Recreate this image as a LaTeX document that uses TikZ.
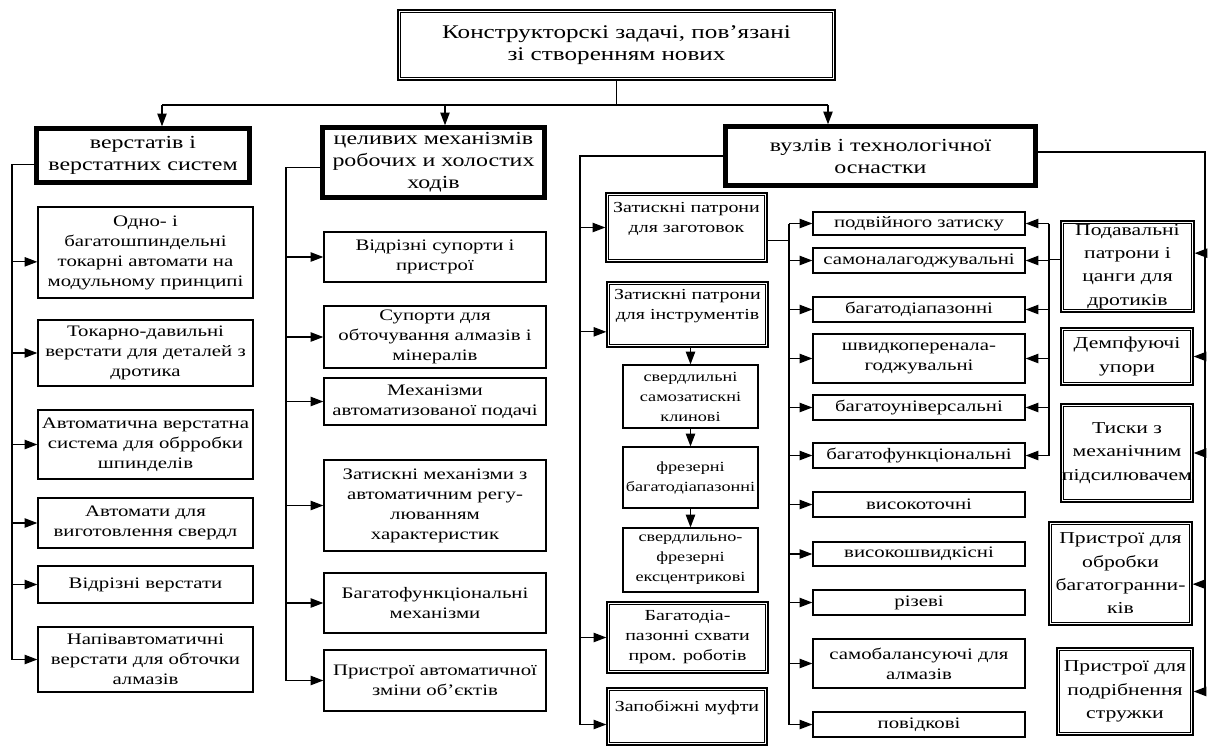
\documentclass[tikz,border=0pt]{standalone}
\usepackage{fontspec}
\setmainfont{Liberation Serif}[FakeStretch=1.3]
\usetikzlibrary{arrows.meta}
\newcommand\fs[2]{\fontsize{#1}{#2}\selectfont}
\newcommand\bx[7]{\node[#6, minimum width={(#4-#2)*0.75pt}, minimum height={(#5-#3)*0.75pt}] (#1) at ({(#2+#4)/2},{(#3+#5)/2}) {#7};}
\newcommand\inrect[3]{\draw[line width=#3] ([shift={(#2,-#2)}]#1.north west) rectangle ([shift={(-#2,#2)}]#1.south east);}
\begin{document}
\begin{tikzpicture}[x=0.75pt,y=-0.75pt,
  box/.style={draw, line width=1pt, align=center, inner sep=0.5pt, font=\fs{12}{15}},
  hdr/.style={draw, line width=2.6pt, align=center, inner sep=0pt, font=\fs{13.8}{16.5}},
  topbox/.style={draw, line width=1.3pt, align=center, inner sep=1pt, font=\fs{14.5}{16.5}},
  dbl/.style={draw, line width=1pt, align=center, inner sep=0.5pt, font=\fs{11.5}{15}},
  sbox/.style={box, line width=0.9pt, font=\fs{10.5}{15}},
  pbox/.style={dbl, font=\fs{12.5}{17.5}},
  arr/.style={-{Triangle[length=9.5pt,width=7pt]}, line width=0.9pt},
  ln/.style={line width=0.9pt}]
\fill[white] (0,0) rectangle (1208,747);
\useasboundingbox (0,0) rectangle (1208,747);

% top
\bx{top}{398}{10}{835}{80}{topbox}{Конструкторскі задачі, пов’язані\\зі створенням нових}
\inrect{top}{2.6pt}{0.7pt}

% headers
\bx{vs}{36}{128}{250}{183}{hdr}{верстатів і\\верстатних систем}
\bx{cm}{322}{127}{545}{198}{hdr}{целивих механізмів\\робочих и холостих\\ходів}
\bx{vz}{725}{126}{1036}{186}{hdr}{вузлів і технологічної\\оснастки}
\inrect{vs}{3.3pt}{0.6pt}
\inrect{cm}{3.3pt}{0.6pt}
\inrect{vz}{3.3pt}{0.6pt}

% left column
\bx{L1}{38}{207}{253}{298}{box}{Одно- і\\багатошпиндельні\\токарні автомати на\\модульному принципі}
\bx{L2}{38}{320}{253}{386}{box}{Токарно-давильні\\верстати для деталей з\\дротика}
\bx{L3}{38}{410}{253}{479}{box}{Автоматична верстатна\\система для обрробки\\шпинделів}
\bx{L4}{38}{498}{253}{548}{box}{Автомати для\\виготовлення свердл}
\bx{L5}{38}{566}{253}{603}{box}{Відрізні верстати}
\bx{L6}{38}{627}{253}{692}{box}{Напівавтоматичні\\верстати для обточки\\алмазів}

% middle column
\bx{M1}{324}{232}{546}{282}{box}{Відрізні супорти і\\пристрої}
\bx{M2}{324}{306}{546}{368}{box}{Супорти для\\обточування алмазів і\\мінералів}
\bx{M3}{324}{378}{546}{425}{box}{Механізми\\автоматизованої подачі}
\bx{M4}{324}{460}{546}{551}{box}{Затискні механізми з\\автоматичним регу-\\люванням\\характеристик}
\bx{M5}{324}{573}{546}{633}{box}{Багатофункціональні\\механізми}
\bx{M6}{324}{650}{546}{711}{box}{Пристрої автоматичної\\зміни об’єктів}

% right part, first column
\bx{R1}{606}{193}{767}{262}{dbl}{Затискні патрони\\для заготовок\\\mbox{}}
\bx{R2}{607}{282}{768}{347}{dbl}{Затискні патрони\\для інструментів\\\mbox{}}
\bx{S1}{623}{365}{758}{428}{sbox}{свердлильні\\самозатискні\\клинові}
\bx{S2}{623}{447}{758}{508}{sbox}{фрезерні\\багатодіапазонні}
\bx{S3}{623}{528}{758}{592}{sbox}{свердлильно-\\фрезерні\\ексцентрикові}
\bx{R3}{607}{602}{768}{673}{dbl}{Багатодіа-\\пазонні схвати\\пром. роботів}
\bx{R4}{607}{688}{767}{745}{dbl}{Запобіжні муфти\\\mbox{}}
\inrect{R1}{2.4pt}{0.6pt}
\inrect{R2}{2.4pt}{0.6pt}
\inrect{R3}{2.4pt}{0.6pt}
\inrect{R4}{2.4pt}{0.6pt}

% list
\bx{B1}{813}{212}{1025}{235}{box}{подвійного затиску}
\bx{B2}{813}{248}{1025}{273}{box}{самоналагоджувальні}
\bx{B3}{813}{297}{1025}{322}{box}{багатодіапазонні}
\bx{B4}{813}{334}{1025}{383}{box}{швидкопереналa-\\годжувальні}
\bx{B5}{813}{395}{1025}{420}{box}{багатоуніверсальні}
\bx{B6}{813}{443}{1025}{468}{box}{багатофункціональні}
\bx{B7}{813}{492}{1025}{517}{box}{високоточні}
\bx{B8}{813}{542}{1025}{566}{box}{високошвидкісні}
\bx{B9}{813}{590}{1025}{615}{box}{різеві}
\bx{B10}{813}{639}{1025}{688}{box}{самобалансуючі для\\алмазів}
\bx{B11}{813}{712}{1025}{737}{box}{повідкові}

% right boxes
\bx{P1}{1061}{221}{1194}{312}{pbox}{Подавальні\\патрони і\\цанги для\\дротиків}
\bx{P2}{1061}{328}{1193}{385}{pbox}{Демпфуючі\\упори}
\bx{P3}{1061}{404}{1193}{502}{pbox}{Тиски з\\механічним\\підсилювачем}
\bx{P4}{1049}{522}{1192}{625}{pbox}{Пристрої для\\обробки\\багатогранни-\\ків}
\bx{P5}{1057}{648}{1193}{735}{pbox}{Пристрої для\\подрібнення\\стружки}
\foreach \n in {P1,P2,P3,P4,P5} {\inrect{\n}{2.4pt}{0.6pt}}

% top connectors
\coordinate (hL) at (162,105);
\coordinate (hM) at (445,105);
\coordinate (hR) at (828,105);
\draw[ln] (top.south) -- (top.south |- hL);
\draw[ln] (hL) -- (hR);
\draw[arr] (hL) -- (hL |- vs.north);
\draw[arr] (hM) -- (hM |- cm.north);
\draw[arr] (hR) -- (hR |- vz.north);

% left connectors
\coordinate (lx) at (12,0);
\coordinate (l1a) at ([yshift=-7pt]L1.west);
\draw[ln] ([yshift=-7pt]vs.west) -| (lx |- L6.west);
\draw[arr] (lx |- l1a) -- (l1a);
\foreach \n in {L2,L3,L4,L5,L6} {\draw[arr] (lx |- \n.west) -- (\n.west);}

% middle connectors
\coordinate (mx) at (286,0);
\draw[ln] ([yshift=-4pt]cm.west) -| (mx |- M6.west);
\foreach \n in {M1,M2,M3,M4,M5,M6} {\draw[arr] (mx |- \n.west) -- (\n.west);}

% right connectors
\coordinate (rx) at (580,0);
\coordinate (r2a) at ([yshift=-13pt]R2.west);
\coordinate (r4a) at ([yshift=-6pt]R4.west);
\draw[ln] (vz.west) -| (rx |- r4a);
\draw[arr] (rx |- R1.west) -- (R1.west);
\draw[arr] (rx |- r2a) -- (r2a);
\draw[arr] (rx |- R3.west) -- (R3.west);
\draw[arr] (rx |- r4a) -- (r4a);
\draw[arr] (S1.north |- R2.south) -- (S1.north);
\draw[arr] (S1.south) -- (S2.north);
\draw[arr] (S2.south) -- (S3.north);

% list connectors
\coordinate (lv2) at (789,0);
\coordinate (r1e) at ([yshift=-10pt]R1.east);
\draw[ln] (lv2 |- B1.west) -- (lv2 |- B11.west);
\draw[ln] (r1e) -- (lv2 |- r1e);
\foreach \n in {B1,B2,B3,B4,B5,B6,B7,B8,B9,B10,B11} {\draw[arr] (lv2 |- \n.west) -- (\n.west);}

% P1 to list
\coordinate (px) at (1049,0);
\coordinate (p1w) at ([yshift=5pt]P1.west);
\draw[ln] (px |- B1.east) -- (px |- B6.east);
\draw[ln] (p1w) -- (px |- p1w);
\foreach \n in {B1,B2,B3,B4,B5,B6} {\draw[arr] (px |- \n.east) -- (\n.east);}

% far right
\coordinate (fx) at (1205,0);
\coordinate (vze) at ([yshift=3pt]vz.east);
\coordinate (p1e) at ([yshift=10pt]P1.east);
\coordinate (p4e) at ([yshift=-8pt]P4.east);
\draw[ln] (vze) -| (fx |- P5.east);
\draw[arr] (fx |- p1e) -- (p1e);
\draw[arr] (fx |- P2.east) -- (P2.east);
\draw[arr] (fx |- P3.east) -- (P3.east);
\draw[arr] (fx |- p4e) -- (p4e);
\draw[arr] (fx |- P5.east) -- (P5.east);
\end{tikzpicture}
\end{document}
